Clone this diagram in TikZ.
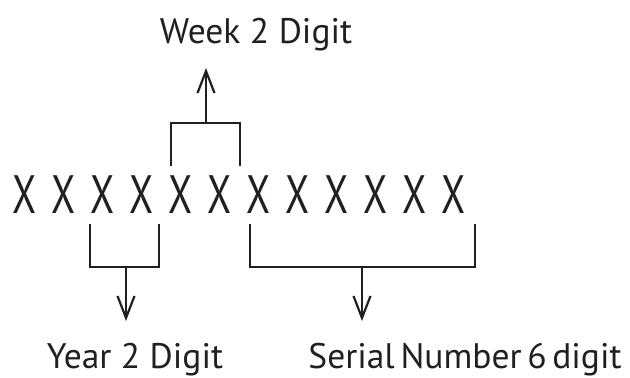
\documentclass[tikz,border=0pt]{standalone}
\usepackage{fontspec}
\setmainfont{PT Sans}
\usetikzlibrary{arrows.meta}
\definecolor{ink}{HTML}{231F20}
\begin{document}
\begin{tikzpicture}[x=1pt,y=-1pt, line width=2.2pt, ink,
  digit/.style={anchor=base, inner sep=0pt, text=ink, font=\fontsize{54}{60}\selectfont},
  digitlabel/.style={anchor=base, inner sep=0pt, text=ink, font=\fontsize{35.5}{40}\selectfont},
  pointer/.style={-{Straight Barb[length=22pt,width=17pt]}}]
%% Fix the page to the size of the reference
    \useasboundingbox (0,0) rectangle (630,378);
%% The row of twelve digits
    \foreach \i in {1,...,12}
      \node[digit] (x\i) at ({25+(\i-1)*39},213) {\scalebox{0.72}[1]{X}};
%% The three labels
    \node[digitlabel] (week) at (256,43) {Week 2 Digit};
    \node[digitlabel] (year) at (135,368) {Year 2 Digit};
    \node[digitlabel] (serial) at (465,368) {\spaceskip=0.16em Serial Number 6 digit};
%% Bracket above the week digits
    \coordinate (wkmid) at (206,123);
    \coordinate (wktip) at (206,68);
    \draw (171,166) -- (171,123) -- (240,123) -- (240,166);
    \draw[pointer] (wkmid) -- (wktip);
%% Brackets below the year and serial digits
    \coordinate (yrmid) at (126,267);
    \coordinate (yrtip) at (126,321);
    \draw (90,224) |- (159,267) -- (159,224);
    \draw[pointer] (yrmid) -- (yrtip);
    \coordinate (snmid) at (362,267);
    \coordinate (sntip) at (362,321);
    \draw (250,224) |- (475,267) -- (475,224);
    \draw[pointer] (snmid) -- (sntip);
%\draw[help lines, step=10](0,0) grid (630,378);
\end{tikzpicture}
\end{document}
